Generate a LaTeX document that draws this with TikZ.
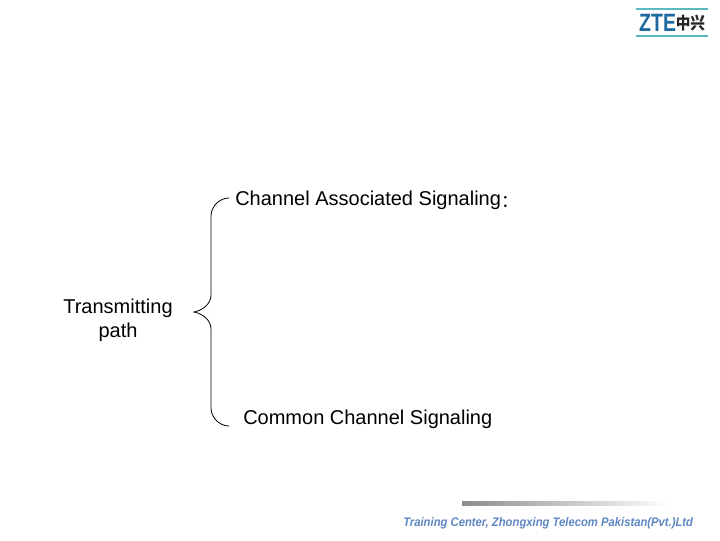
\documentclass[tikz,border=0pt]{standalone}
\usepackage{fontspec}
\setmainfont{Liberation Sans}
\newfontfamily\cjk{Noto Sans CJK SC}
\usetikzlibrary{shadings}
\definecolor{zteblue}{RGB}{30,105,160}
\definecolor{zteteal}{RGB}{90,185,190}
\definecolor{footblue}{RGB}{95,135,195}
\tikzset{
  px/.style={x=0.75pt,y=-0.75pt},
  label/.style={inner sep=0pt,font=\fontsize{15}{18}\selectfont,text=black,align=center},
  bracecurve/.style={draw=black,line width=0.6pt}
}
\begin{document}
\begin{tikzpicture}[px]
\useasboundingbox (0,0) rectangle (720,540);
\fill[white] (0,0) rectangle (720,540);
% labels
\node[label,anchor=west] (cas) at (235,200) {Channel Associated Signaling\raisebox{-1.5pt}{\cjk\fontsize{13}{13}\selectfont ：}};
\node[label,anchor=west] (ccs) at (243,419) {Common Channel Signaling};
\node[label] (tp) at (118,320) {Transmitting\\path};
% brace
\coordinate (top) at (229,198);
\coordinate (tip) at (194,312);
\coordinate (bot) at (229,426);
\draw[bracecurve] (top) .. controls (219,198) and (211,207) .. (211,216)
  -- (211,295) .. controls (211,303) and (204,310) .. (tip)
  .. controls (204,314) and (211,321) .. (211,329)
  -- (211,408) .. controls (211,417) and (219,426) .. (bot);
% logo
\draw[zteteal,line width=0.8pt] (636,9) -- (708,9);
\draw[zteteal,line width=0.8pt] (636,36) -- (708,36);
\node[inner sep=0pt,anchor=west,text=zteblue,xscale=0.78,font=\fontsize{18.8}{19}\selectfont\bfseries] (zte) at (639,23) {ZTE};
\node[inner sep=0pt,anchor=west,text=black!85,yscale=1.15,font=\cjk\fontsize{11}{11}\selectfont\bfseries] (zx) at (675.5,23) {中兴};
% footer
\shade[left color=black!45,right color=white] (462,501.5) rectangle (670,505);
\node[inner sep=0pt,anchor=west,text=footblue,yscale=1.1,font=\fontsize{8.45}{10}\selectfont\bfseries\itshape] (foot) at (403,523.5) {Training Center, Zhongxing Telecom Pakistan(Pvt.)Ltd};
\end{tikzpicture}
\end{document}
